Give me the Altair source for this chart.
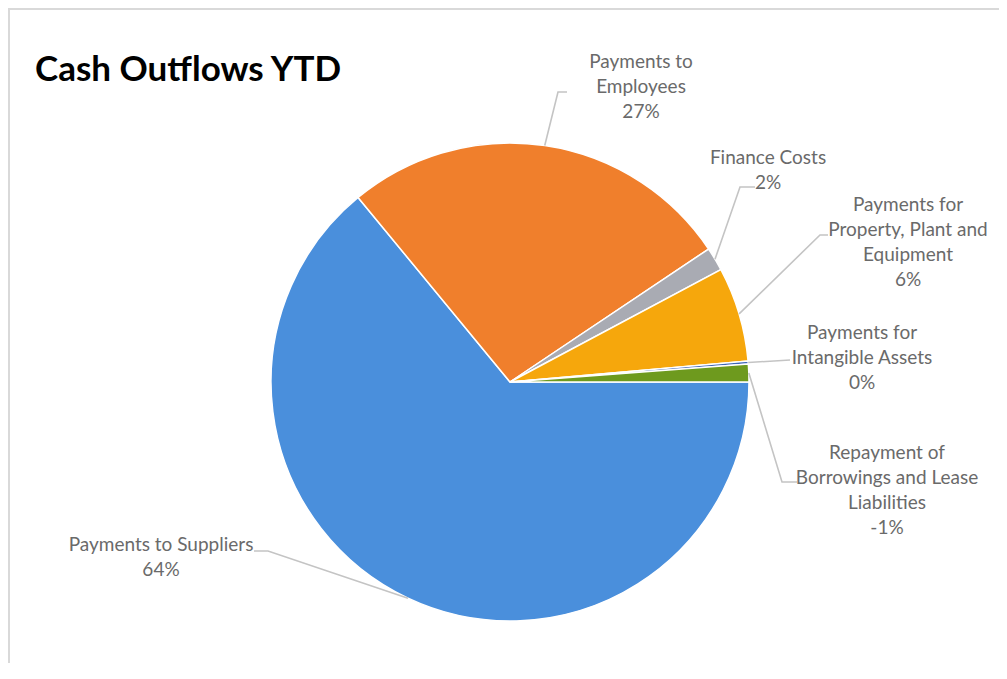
import math
import numpy as np
import pandas as pd
import altair as alt

# ---------------- data ----------------
categories = [
    "Payments to Suppliers",
    "Payments to Employees",
    "Finance Costs",
    "Payments for Property, Plant and Equipment",
    "Payments for Intangible Assets",
    "Repayment of Borrowings and Lease Liabilities",
]
values = [64.1, 26.6, 1.6, 6.4, 0.2, -1.2]
label_lines = [
    ["Payments to Suppliers"],
    ["Payments to", "Employees"],
    ["Finance Costs"],
    ["Payments for", "Property, Plant and", "Equipment"],
    ["Payments for", "Intangible Assets"],
    ["Repayment of", "Borrowings and Lease", "Liabilities"],
]
colors = ["#4a8fdc", "#f07f2c", "#a9abb3", "#f6a70c", "#3f66b8", "#6e9a1e"]
title_text = "Cash Outflows YTD"

# ---------------- layout (page pixel coordinates) ----------------
W, H = 991, 655
OFF = 8
CX, CY, R = 510, 382, 239
# label positions: centre x, first-line y
label_pos = [(161, 545), (641, 62), (768, 158), (908, 205), (862, 333), (887, 453)]
# leader elbows and ends
leader_elbow = [(268, 551), (558, 92), (740, 187), (820, 235), (790, 360), (782, 482)]
leader_end = [(254, 551), (567, 92), (755, 187), (828, 235), (790, 360), (797, 482)]
FONT = "Lato"

# ---------------- derived tables ----------------
absvals = [abs(v) for v in values]
total = sum(absvals)
pcts = [v / total for v in values]
pct_text = [f"{round(p * 100):d}%" for p in pcts]

pie_df = pd.DataFrame({"category": categories, "absval": absvals, "idx": range(len(categories))})

# mid angles of slices, clockwise from 12 o'clock, first slice at 3 o'clock
cum = np.cumsum([0] + absvals)
start_angle = math.pi / 2
mids = [start_angle + 2 * math.pi * (cum[i] + cum[i + 1]) / 2 / total for i in range(len(values))]

line_rows = []
for i, cat in enumerate(categories):
    sx = CX + R * math.sin(mids[i])
    sy = CY - R * math.cos(mids[i])
    pts = [(sx, sy), leader_elbow[i], leader_end[i]]
    for k, (px, py) in enumerate(pts):
        line_rows.append({"category": cat, "seq": k, "x": px - OFF, "y": py - OFF})
line_df = pd.DataFrame(line_rows)

lab_df = pd.DataFrame({
    "category": categories,
    "text": ["\n".join(label_lines[i] + [pct_text[i]]) for i in range(len(categories))],
    "x": [p[0] - OFF for p in label_pos],
    "y": [p[1] - OFF for p in label_pos],
})

xs = alt.Scale(domain=[0, W], range=[0, W], nice=False, zero=False)
ys = alt.Scale(domain=[0, H], range=[0, H], nice=False, zero=False)

pie = alt.Chart(pie_df).mark_arc(
    outerRadius=R, stroke="white", strokeWidth=1.5
).encode(
    theta=alt.Theta("absval:Q", stack=True,
                    scale=alt.Scale(range=[math.pi / 2, math.pi / 2 + 2 * math.pi])),
    color=alt.Color("category:N", scale=alt.Scale(domain=categories, range=colors), legend=None),
    order=alt.Order("idx:Q"),
    x=alt.value(CX - OFF),
    y=alt.value(CY - OFF),
)

leaders = alt.Chart(line_df).mark_line(color="#c4c4c4", strokeWidth=1.6).encode(
    x=alt.X("x:Q", scale=xs, axis=None),
    y=alt.Y("y:Q", scale=ys, axis=None),
    detail="category:N",
    order="seq:Q",
)

labels = alt.Chart(lab_df).mark_text(
    font=FONT, fontSize=19, color="#6a6a6a", align="center", baseline="middle",
    lineBreak="\n", lineHeight=25,
).encode(
    x=alt.X("x:Q", scale=xs, axis=None),
    y=alt.Y("y:Q", scale=ys, axis=None),
    text="text:N",
)

title = alt.Chart(pd.DataFrame({"t": [title_text]})).mark_text(
    font=FONT, fontSize=35, fontWeight="bold", color="#000000", align="left", baseline="middle"
).encode(
    x=alt.value(35 - OFF), y=alt.value(70 - OFF), text="t:N"
)

border_top = alt.Chart(pd.DataFrame({"a": [0]})).mark_rule(color="#d9d9d9", strokeWidth=2).encode(
    x=alt.value(0), x2=alt.value(W), y=alt.value(1)
)
border_left = alt.Chart(pd.DataFrame({"a": [0]})).mark_rule(color="#d9d9d9", strokeWidth=2).encode(
    x=alt.value(1), y=alt.value(0), y2=alt.value(H)
)

chart = alt.layer(border_top, border_left, pie, leaders, labels, title).properties(
    width=W, height=H, padding=0, autosize="none", background="white"
).configure_view(stroke=None)

chart.save("out.html", embed_options={"renderer": "svg", "actions": False})
